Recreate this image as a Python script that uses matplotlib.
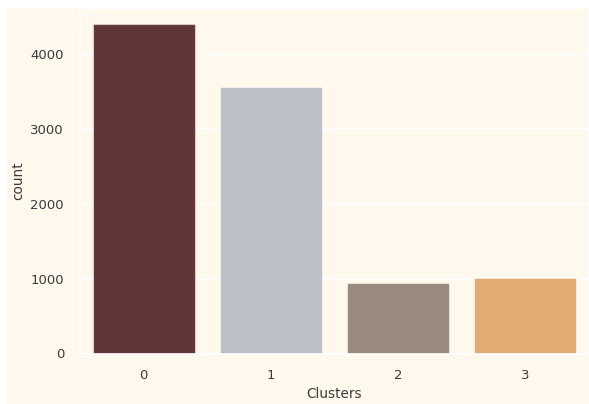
import numpy as np
import matplotlib
matplotlib.use('Agg')
import matplotlib.pyplot as plt
from matplotlib.patches import Rectangle

# data
clusters = ['0', '1', '2', '3']
counts = [4410, 3570, 945, 1010]
bar_colors = ['#613636', '#BBC0C7', '#9A8A7D', '#E1AB72']
bg = '#FFF9ED'

W, H = 589, 404
fig = plt.figure(figsize=(W / 100, H / 100), dpi=100)
fig.patch.set_facecolor('white')
# cream panel with thin white border on left/top
fig.patches.append(Rectangle((7 / W, 0), (W - 7) / W, (H - 8) / H,
                             transform=fig.transFigure, facecolor=bg,
                             edgecolor='none', zorder=-10))

ax = fig.add_axes([80 / W, (H - 353.5) / H, 509 / W, 345.5 / H])
ax.set_facecolor(bg)
x = np.arange(len(clusters))
ax.bar(x, counts, width=0.8, color=bar_colors, edgecolor=(1, 1, 1, 0.5),
       linewidth=0.8, zorder=2)
ax.set_xlim(-0.5, 3.5)
ax.set_ylim(0, 4620)
ax.set_xticks(x)
ax.set_xticklabels(clusters)
ax.set_yticks([0, 1000, 2000, 3000, 4000])
ax.grid(axis='y', color='white', lw=1.2, zorder=0)
ax.set_axisbelow(True)
for s in ax.spines.values():
    s.set_color('white')
    s.set_linewidth(1.2)
ax.tick_params(length=0, pad=11.5, labelsize=9.5, colors='#3a3a3a')
ax.set_xlabel('Clusters', fontsize=9.8, color='#3a3a3a', labelpad=3.5)
ax.set_ylabel('count', fontsize=9.8, color='#3a3a3a', labelpad=3.5)

fig.savefig('out.png', dpi=100, facecolor='white')
